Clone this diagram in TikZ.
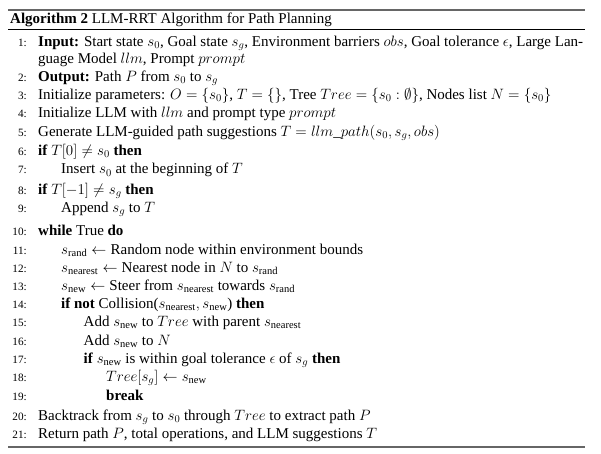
\RequirePackage{fix-cm}
\documentclass[tikz,border=0pt]{standalone}
\usepackage{amsmath}
\usepackage[no-math]{fontspec}
\setmainfont{Liberation Serif}
\tikzset{
  x=1pt,y=1pt,
  algline/.style={anchor=base west,inner sep=0pt,font=\fontsize{15}{18}\selectfont},
  numlbl/.style={anchor=base east,inner sep=0pt,font=\fontsize{11.2}{13}\selectfont},
  heavyrule/.style={line width=1.6pt,draw=black!60},
  lightrule/.style={line width=0.8pt,draw=black}
}
\begin{document}
\begin{tikzpicture}
\useasboundingbox (0,0) rectangle (601,-454);
\def\xa{38}\def\xb{61}\def\xc{83.5}\def\xd{106}\def\xn{27}
% rules
\draw[heavyrule] (8,-10) -- (585,-10);
\draw[lightrule] (8,-29.3) -- (585,-29.3);
\draw[heavyrule] (8,-447) -- (585,-447);
% title
\node[algline] (title) at (10,-24) {\textbf{Algorithm 2} LLM-RRT Algorithm for Path Planning};
% line numbers
\foreach \n/\y in {1/46.5,2/81.5,3/99.5,4/117.5,5/136.5,6/155.5,7/174,8/194,9/212,10/235,11/254,12/272,13/290.5,14/308.5,15/326.5,16/345,17/363,18/381.5,19/400,20/420,21/438.5}
  \node[numlbl] (n\n) at (\xn,-\y) {\n:};
% lines
\node[algline] (l1) at (\xa,-46.5) {\textbf{Input:} Start state $s_0$, Goal state $s_g$, Environment barriers $obs$, Goal tolerance $\epsilon$, Large Lan-};
\node[algline] (l1b) at (\xa,-63.5) {guage Model $llm$, Prompt $prompt$};
\node[algline] (l2) at (\xa,-81.5) {\textbf{Output:} Path $P$ from $s_0$ to $s_g$};
\node[algline] (l3) at (\xa,-99.5) {Initialize parameters: $O=\{s_0\}$, $T=\{\}$, Tree $Tree=\{s_0:\emptyset\}$, Nodes list $N=\{s_0\}$};
\node[algline] (l4) at (\xa,-117.5) {Initialize LLM with $llm$ and prompt type $prompt$};
\node[algline] (l5) at (\xa,-136.5) {Generate LLM-guided path suggestions $T=llm\_path(s_0,s_g,obs)$};
\node[algline] (l6) at (\xa,-155.5) {\textbf{if} $T[0]\neq s_0$ \textbf{then}};
\node[algline] (l7) at (\xb,-174) {Insert $s_0$ at the beginning of $T$};
\node[algline] (l8) at (\xa,-194) {\textbf{if} $T[-1]\neq s_g$ \textbf{then}};
\node[algline] (l9) at (\xb,-212) {Append $s_g$ to $T$};
\node[algline] (l10) at (\xa,-235) {\textbf{while} True \textbf{do}};
\node[algline] (l11) at (\xb,-254) {$s_{\text{rand}}\leftarrow{}$Random node within environment bounds};
\node[algline] (l12) at (\xb,-272) {$s_{\text{nearest}}\leftarrow{}$Nearest node in $N$ to $s_{\text{rand}}$};
\node[algline] (l13) at (\xb,-290.5) {$s_{\text{new}}\leftarrow{}$Steer from $s_{\text{nearest}}$ towards $s_{\text{rand}}$};
\node[algline] (l14) at (\xb,-308.5) {\textbf{if not} Collision($s_{\text{nearest}}, s_{\text{new}}$) \textbf{then}};
\node[algline] (l15) at (\xc,-326.5) {Add $s_{\text{new}}$ to $Tree$ with parent $s_{\text{nearest}}$};
\node[algline] (l16) at (\xc,-345) {Add $s_{\text{new}}$ to $N$};
\node[algline] (l17) at (\xc,-363) {\textbf{if} $s_{\text{new}}$ is within goal tolerance $\epsilon$ of $s_g$ \textbf{then}};
\node[algline] (l18) at (\xd,-381.5) {$Tree[s_g]\leftarrow s_{\text{new}}$};
\node[algline] (l19) at (\xd,-400) {\textbf{break}};
\node[algline] (l20) at (\xa,-420) {Backtrack from $s_g$ to $s_0$ through $Tree$ to extract path $P$};
\node[algline] (l21) at (\xa,-438.5) {Return path $P$, total operations, and LLM suggestions $T$};
\end{tikzpicture}
\end{document}
